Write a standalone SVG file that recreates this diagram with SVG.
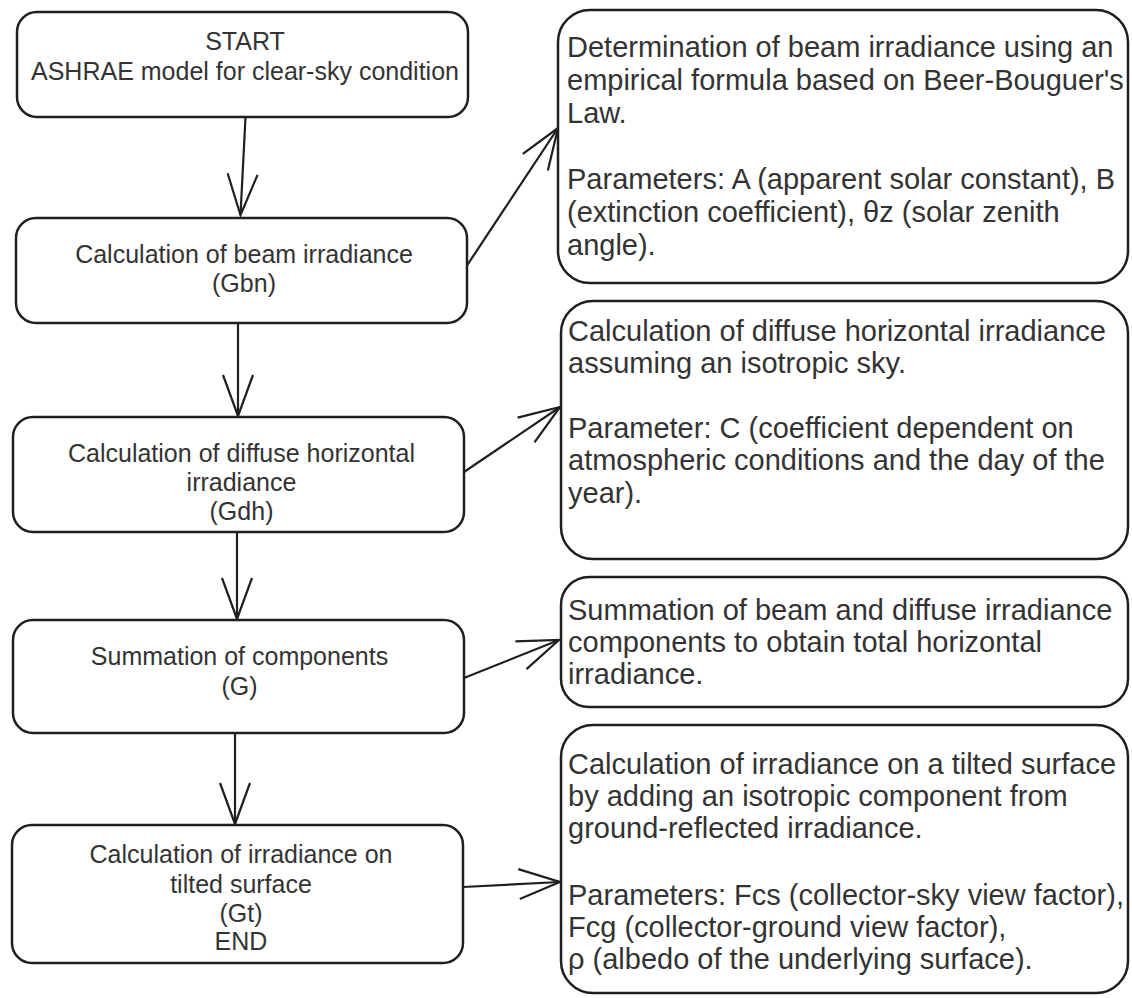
<svg xmlns="http://www.w3.org/2000/svg" width="1132" height="998" viewBox="0 0 1132 998">
<style>
.box{fill:#fff;stroke:#1f1f1f;stroke-width:2.5}
.lt{font-family:"Liberation Sans",Arial,sans-serif;font-size:25px;fill:#333;text-anchor:middle}
.rt{font-family:"Liberation Sans",Arial,sans-serif;font-size:29px;fill:#333}
.conn{fill:none;stroke:#1f1f1f;stroke-width:2.2}
</style>
<defs>
<marker id="arr" markerUnits="userSpaceOnUse" viewBox="-44 -18 48 36" markerWidth="48" markerHeight="36" refX="0" refY="0" orient="auto">
<path d="M -41 -15 L 0 0 L -41 15" fill="none" stroke="#1f1f1f" stroke-width="2.2"/>
</marker>
</defs>
<rect width="1132" height="998" fill="#fff"/>
<g id="connectors">
<line class="conn" x1="245.5" y1="117" x2="240.5" y2="215" marker-end="url(#arr)"/>
<line class="conn" x1="238" y1="323" x2="238" y2="416" marker-end="url(#arr)"/>
<line class="conn" x1="237" y1="532" x2="237" y2="619" marker-end="url(#arr)"/>
<line class="conn" x1="235" y1="733" x2="235" y2="824" marker-end="url(#arr)"/>
<line class="conn" x1="466" y1="267" x2="558" y2="128" marker-end="url(#arr)"/>
<line class="conn" x1="464" y1="472" x2="560" y2="407" marker-end="url(#arr)"/>
<line class="conn" x1="464" y1="678" x2="559" y2="640" marker-end="url(#arr)"/>
<line class="conn" x1="463" y1="887" x2="560" y2="882" marker-end="url(#arr)"/>
</g>
<g id="n-start">
<rect class="box" x="17" y="12" width="451" height="105" rx="20"/>
<text class="lt" x="245" y="50">START</text>
<text class="lt" x="245" y="80">ASHRAE model for clear-sky condition</text>
</g>
<g id="n-gbn">
<rect class="box" x="16" y="218" width="451" height="105" rx="20"/>
<text class="lt" x="244" y="263">Calculation of beam irradiance</text>
<text class="lt" x="244" y="292">(Gbn)</text>
</g>
<g id="n-gdh">
<rect class="box" x="13" y="417" width="451" height="115" rx="20"/>
<text class="lt" x="241.5" y="462">Calculation of diffuse horizontal</text>
<text class="lt" x="241.5" y="491">irradiance</text>
<text class="lt" x="241.5" y="520">(Gdh)</text>
</g>
<g id="n-g">
<rect class="box" x="13" y="620" width="451" height="113" rx="20"/>
<text class="lt" x="239.5" y="665">Summation of components</text>
<text class="lt" x="239.5" y="695">(G)</text>
</g>
<g id="n-gt">
<rect class="box" x="12" y="825" width="451" height="138" rx="20"/>
<text class="lt" x="241" y="863">Calculation of irradiance on</text>
<text class="lt" x="241" y="893">tilted surface</text>
<text class="lt" x="241" y="922">(Gt)</text>
<text class="lt" x="241" y="950">END</text>
</g>
<g id="d-beam">
<rect class="box" x="558" y="10" width="570" height="273" rx="32"/>
<text class="rt" x="567" y="57">Determination of beam irradiance using an</text>
<text class="rt" x="567" y="90">empirical formula based on Beer-Bouguer's</text>
<text class="rt" x="567" y="123">Law.</text>
<text class="rt" x="567" y="189">Parameters: A (apparent solar constant), B</text>
<text class="rt" x="567" y="222">(extinction coefficient), θz (solar zenith</text>
<text class="rt" x="567" y="255">angle).</text>
</g>
<g id="d-diffuse">
<rect class="box" x="561" y="301" width="567" height="258" rx="32"/>
<text class="rt" x="568" y="341">Calculation of diffuse horizontal irradiance</text>
<text class="rt" x="568" y="373">assuming an isotropic sky.</text>
<text class="rt" x="568" y="438">Parameter: C (coefficient dependent on</text>
<text class="rt" x="568" y="470">atmospheric conditions and the day of the</text>
<text class="rt" x="568" y="503">year).</text>
</g>
<g id="d-sum">
<rect class="box" x="561" y="577" width="567" height="130" rx="28"/>
<text class="rt" x="568" y="620">Summation of beam and diffuse irradiance</text>
<text class="rt" x="568" y="652">components to obtain total horizontal</text>
<text class="rt" x="568" y="684">irradiance.</text>
</g>
<g id="d-tilted">
<rect class="box" x="561" y="725" width="567" height="268" rx="32"/>
<text class="rt" x="568" y="774">Calculation of irradiance on a tilted surface</text>
<text class="rt" x="568" y="806">by adding an isotropic component from</text>
<text class="rt" x="568" y="838">ground-reflected irradiance.</text>
<text class="rt" x="568" y="905">Parameters: Fcs (collector-sky view factor),</text>
<text class="rt" x="568" y="937">Fcg (collector-ground view factor),</text>
<text class="rt" x="568" y="969">ρ (albedo of the underlying surface).</text>
</g>
</svg>
